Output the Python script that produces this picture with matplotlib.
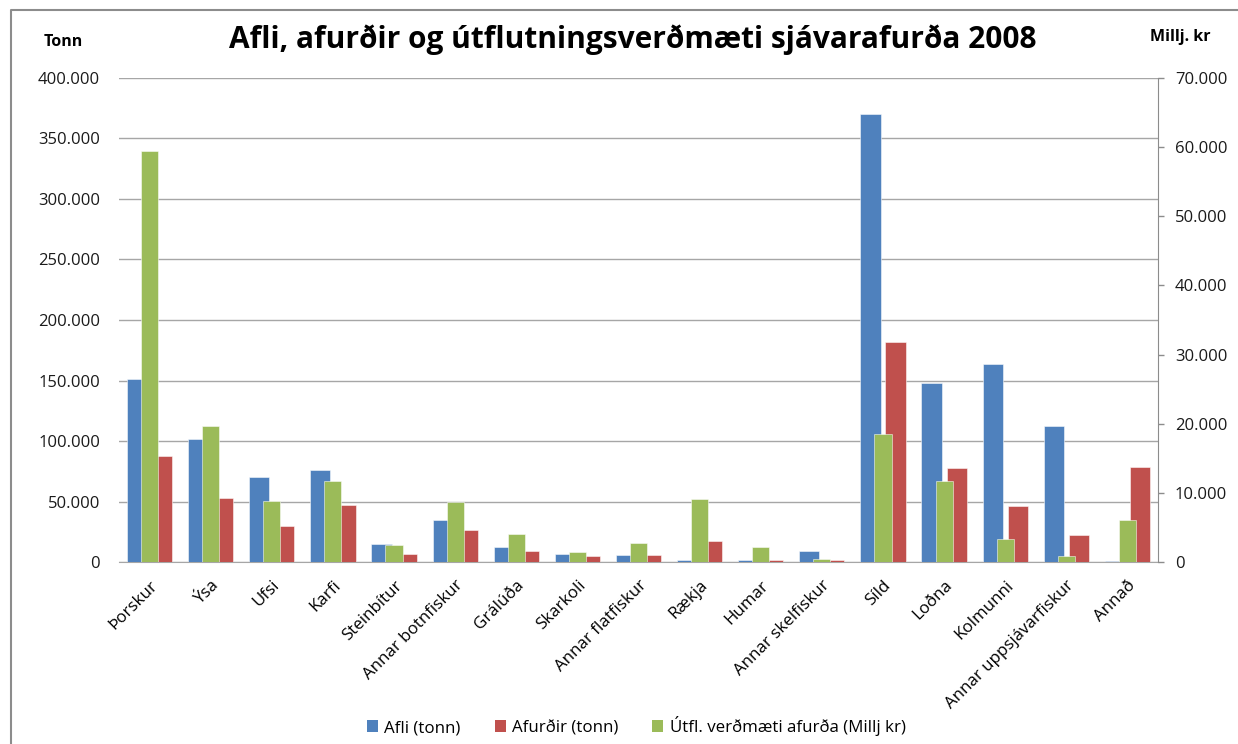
import matplotlib
matplotlib.use("Agg")
import matplotlib.pyplot as plt
import numpy as np
from matplotlib.ticker import FuncFormatter, MultipleLocator
from matplotlib.patches import Patch
from matplotlib.lines import Line2D

plt.rcParams['font.family'] = ['Open Sans', 'DejaVu Sans']

categories = ["Þorskur", "Ýsa", "Ufsi", "Karfi", "Steinbítur", "Annar botnfiskur",
              "Grálúða", "Skarkoli", "Annar flatfiskur", "Rækja", "Humar",
              "Annar skelfiskur", "Síld", "Loðna", "Kolmunni",
              "Annar uppsjávarfiskur", "Annað"]
afli = [151000, 102000, 70000, 75800, 15000, 35000, 12000, 7000, 6200, 2000, 2000,
        8700, 370000, 148000, 163500, 112400, 1000]
afurdir = [88000, 52600, 30000, 47400, 6500, 26600, 9200, 4800, 5400, 17500, 1500,
           1500, 181800, 77400, 46300, 22600, 78200]
verdmaeti = [59400, 19700, 8870, 11760, 2400, 8750, 3980, 1420, 2820, 9180, 2100,
             500, 18560, 11660, 3330, 910, 6120]

series_names = ["Afli (tonn)", "Afurðir (tonn)", "Útfl. verðmæti afurða (Millj kr)"]
colors = ["#4F81BD", "#C0504D", "#9BBB59"]

def dotfmt(v, pos):
    return f"{int(round(v)):,}".replace(",", ".")

fig = plt.figure(figsize=(12.38, 7.44), dpi=100)
ax = fig.add_axes([0.0961, 0.2446, 0.8393, 0.6506])
ax2 = ax.twinx()

x = np.arange(len(categories))
bw = 0.33
off = 0.205
gw = 0.28
edge = dict(edgecolor=(1, 1, 1, 0.6), linewidth=0.6)
ax.bar(x - off, afli, bw, color=colors[0], zorder=3, **edge)
ax.bar(x + off, afurdir, bw, color=colors[1], zorder=3, **edge)
ax2.bar(x, verdmaeti, gw, color=colors[2], zorder=3, **edge)

ax.set_xlim(-0.5, len(categories) - 0.5)
ax.set_ylim(0, 400000)
ax2.set_ylim(0, 70000)
ax.yaxis.set_major_locator(MultipleLocator(50000))
ax2.yaxis.set_major_locator(MultipleLocator(10000))
ax.yaxis.set_major_formatter(FuncFormatter(dotfmt))
ax2.yaxis.set_major_formatter(FuncFormatter(dotfmt))

ax.grid(axis='y', color='#a6a6a6', linewidth=1.0, zorder=0)
ax.set_axisbelow(True)
for s in ['top', 'left', 'right']:
    ax.spines[s].set_visible(False)
ax.spines['bottom'].set_color('#a6a6a6')
for s in ['top', 'left', 'bottom']:
    ax2.spines[s].set_visible(False)
ax2.spines['right'].set_color('#8c8c8c')

ax.tick_params(axis='y', length=0, pad=13.7, labelsize=12, labelcolor='#1a1a1a')
ax2.tick_params(axis='y', length=4.1, width=1, color='#8c8c8c', pad=8.1,
                labelsize=12, labelcolor='#1a1a1a')
ax.set_xticks(x)
ax.set_xticklabels(categories, rotation=45, ha='right', va='top',
                   rotation_mode='anchor', fontsize=12.2)
ax.tick_params(axis='x', length=0, pad=11)

fig.text(0.511, 0.9355, "Afli, afurðir og útflutningsverðmæti sjávarafurða 2008",
         ha='center', va='baseline', fontsize=21.5, fontweight='bold')
fig.text(0.051, 0.938, "Tonn", ha='center', va='baseline', fontsize=11.5, fontweight='bold')
fig.text(0.953, 0.945, "Millj. kr", ha='center', va='baseline', fontsize=11.5, fontweight='bold')

handles = [Patch(facecolor=c, edgecolor='none') for c in colors]
fig.legend(handles, series_names, loc='center', bbox_to_anchor=(0.514, 0.024),
           ncol=3, frameon=False, fontsize=12.2, handlelength=0.66, handleheight=0.66,
           handletextpad=0.36, columnspacing=2.0)

# outer chart-area border (top and left visible)
fig.add_artist(Line2D([0.009, 0.009, 1.0], [0.0, 0.987, 0.987],
                      transform=fig.transFigure, color='#8c8c8c', linewidth=1.5))

fig.savefig("out.png", dpi=100)
